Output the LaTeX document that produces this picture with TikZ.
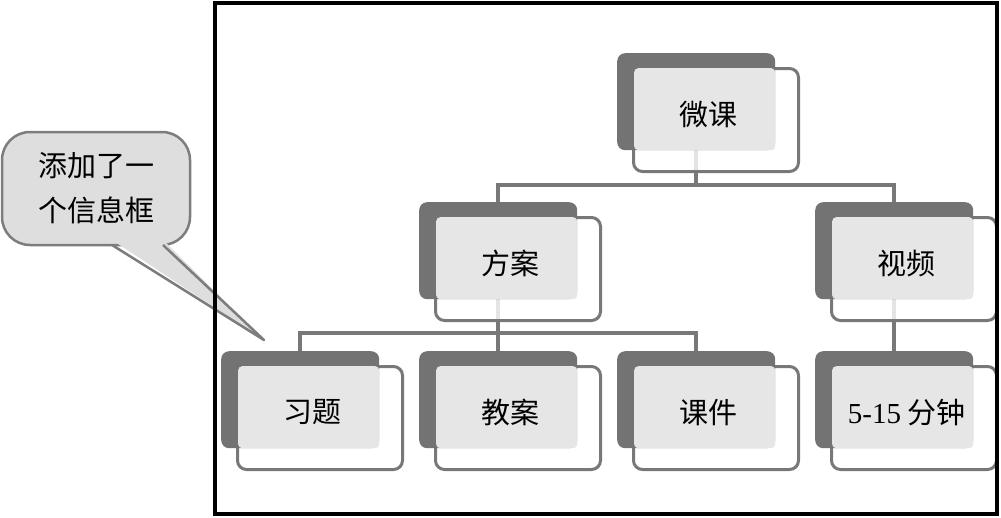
\documentclass[tikz,border=0pt]{standalone}
\usepackage{fontspec}
\setmainfont{Liberation Serif}
\newfontfamily\cjk{Noto Sans CJK SC}
\usetikzlibrary{backgrounds}
\definecolor{darkg}{RGB}{115,115,115}
\definecolor{lightg}{RGB}{230,230,230}
\definecolor{lineg}{RGB}{120,120,120}
\definecolor{callg}{RGB}{222,222,222}
\definecolor{callb}{RGB}{125,125,125}
\tikzset{
  whitebox/.style={draw=lineg, line width=3pt, fill=white, fill opacity=0.8,
    rounded corners=9pt, minimum width=165pt, minimum height=103pt, inner sep=0pt, anchor=north west},
  darkbox/.style={fill=darkg, rounded corners=8pt, minimum width=158pt, minimum height=97pt,
    inner sep=0pt, anchor=north west},
  lightbox/.style={fill=lightg, rounded corners=4pt, minimum width=141pt, minimum height=82pt,
    inner sep=0pt, anchor=north west},
  boxtext/.style={inner sep=0pt, font=\cjk\fontsize{29}{34}\selectfont},
  conn/.style={draw=lineg, line width=3.5pt},
  callbox/.style={fill=callg, draw=callb, line width=2.5pt, rounded corners=28pt,
    minimum width=188pt, minimum height=113pt, inner sep=0pt, align=center,
    font=\cjk\fontsize{29}{45}\selectfont},
  calledge/.style={draw=callb, line width=2.5pt, line join=round},
  frame/.style={draw=black, line width=4pt}
}
\newcommand\orgbox[4]{%
  \node[whitebox] (#1-w) at ({#2+15},{#3+14}) {};
  \node[darkbox] (#1) at (#2,#3) {};
  \node[lightbox] (#1-t) at ({#2+17},{#3+15}) {};
  \node[boxtext] (#1-l) at ([shift={(4,5)}]#1-t.center) {#4};
}
\begin{document}
\begin{tikzpicture}[x=1pt,y=-1pt]
\useasboundingbox (0,0) rectangle (1001,517);
% nodes
\orgbox{wk}{617}{53}{微课}
\orgbox{fa}{419}{202}{方案}
\orgbox{sp}{815}{202}{视频}
\orgbox{xt}{221}{351}{习题}
\orgbox{ja}{419}{351}{教案}
\orgbox{kj}{617}{351}{课件}
\orgbox{fz}{815}{351}{{\rmfamily 5-15} 分钟}
\coordinate (b1) at (0,185);
\coordinate (b2) at (0,333);
\begin{scope}[on background layer]
  \draw[conn] (wk.south) -- (wk.south |- b1);
  \draw[conn] (fa.north) |- (sp.north |- b1) -- (sp.north);
  \draw[conn] (fa.south) -- (fa.south |- b2);
  \draw[conn] (xt.north) |- (kj.north |- b2) -- (kj.north);
  \draw[conn] (ja.north) -- (ja.north |- b2);
  \draw[conn] (sp.south) -- (fz.north);
\end{scope}
% callout
\node[callbox] (call) at (96,188.5) {添加了一\\个信息框};
\coordinate (tip) at (264,340);
\fill[callg] (112,240) -- (tip) -- (163,240) -- cycle;
\draw[calledge] (112,245) -- (tip) -- (163,245);
% frame
\draw[frame] (215,3) rectangle (997,514);
\end{tikzpicture}
\end{document}
